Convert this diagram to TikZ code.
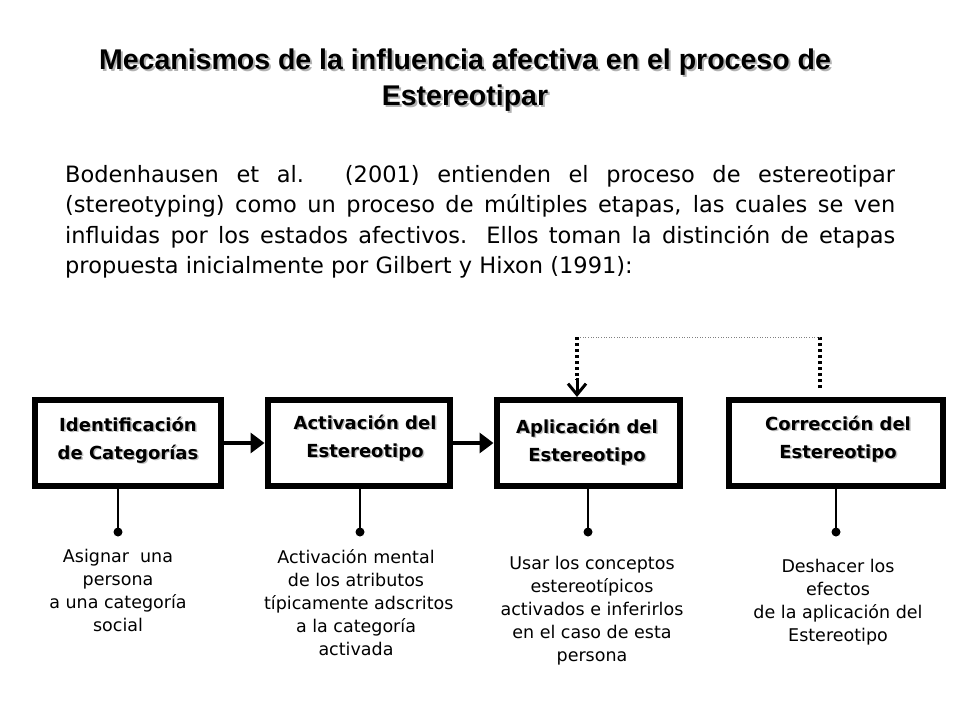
\documentclass[tikz,border=0pt]{standalone}
\usepackage{fontspec}
\setmainfont{DejaVu Sans}
\newfontfamily\titlefont{Liberation Sans}
\usetikzlibrary{arrows.meta}
\begin{document}
\begin{tikzpicture}[x=1pt,y=-1pt,
  stagebox/.style={draw,line width=6pt,minimum width=#1,minimum height=86pt,inner sep=0pt},
  boxlabel/.style={font=\bfseries\fontsize{18}{28}\selectfont,align=center},
  desc/.style={font=\fontsize{17.5}{23}\selectfont,align=center},
  stem/.style={line width=2.5pt},
  bigarrow/.style={line width=4pt,-{Triangle[length=14pt,width=20pt]}},
  dots/.style={line width=4pt,dash pattern=on 3pt off 3pt}]
\useasboundingbox (0,0) rectangle (960,720);
% title
\foreach \dx/\c in {2/gray!60,0/black}{
\node[font=\titlefont\bfseries\fontsize{28.5}{36}\selectfont,align=center,text=\c] at (465+\dx,80+\dx) {Mecanismos de la influencia afectiva en el proceso de\\Estereotipar};}
% paragraph
\node[anchor=north west,text width=830pt,align=justify,font=\fontsize{22.5}{30.5}\selectfont,inner sep=0pt] (par) at (65,165) {Bodenhausen et al. (2001) entienden el proceso de estereotipar\linebreak (stereotyping) como un proceso de múltiples etapas, las cuales se ven\linebreak influidas por los estados afectivos. Ellos toman la distinción de etapas\linebreak propuesta inicialmente por Gilbert y Hixon (1991):};
% boxes
\node[stagebox=186pt] (b1) at (127.5,443) {};
\node[stagebox=182pt] (b2) at (358.5,443) {};
\node[stagebox=183pt] (b3) at (588,443) {};
\node[stagebox=214pt] (b4) at (835.5,443) {};
\foreach \n/\x/\y/\t in {l1/128/440/{Identificación\\de Categorías},l2/365/438/{Activación del\\Estereotipo},l3/587/442/{Aplicación del\\Estereotipo},l4/838/439/{Corrección del\\Estereotipo}}{
  \node[boxlabel,text=gray!50] at (\x+1.5,\y+1.5) {\t};
  \node[boxlabel] (\n) at (\x,\y) {\t};}
\draw[bigarrow] (b1.east) -- (b2.west);
\draw[bigarrow] (b2.east) -- (b3.west);
% feedback
\coordinate (fa) at (577,337);
\coordinate (fb) at (820,337);
\coordinate (fbe) at (820,388);
\draw[dots] (fbe) -- (fb);
\draw[gray,line width=0.6pt,dotted] (fb) -- (fa);
\draw[dots] (fa) -- (577,380);
\draw[line width=3pt,-{Straight Barb[length=11pt,width=18pt]}] (577,378) -- (b3.north -| fa);
% stems
\foreach \b/\x/\n in {b1/118/d1,b2/360/d2,b3/588/d3,b4/836/d4}{
  \coordinate (\n) at (\x,532);
  \draw[stem] (\b.south -| \n) -- (\n);
  \fill (\n) circle (4.5pt);}
\node[desc,anchor=north] (t1) at (118,546) {Asignar\ \ una\\persona\\a una categoría\\social};
\node[desc,anchor=north] (t2) at (356,546) {Activación mental\\de los atributos\\\ típicamente adscritos\\a la categoría\\activada};
\node[desc,anchor=north] (t3) at (592,553) {Usar los conceptos\\estereotípicos\\activados e inferirlos\\en el caso de esta\\persona};
\node[desc,anchor=north] (t4) at (838,556) {Deshacer los\\efectos\\de la aplicación del\\Estereotipo};
\end{tikzpicture}
\end{document}
